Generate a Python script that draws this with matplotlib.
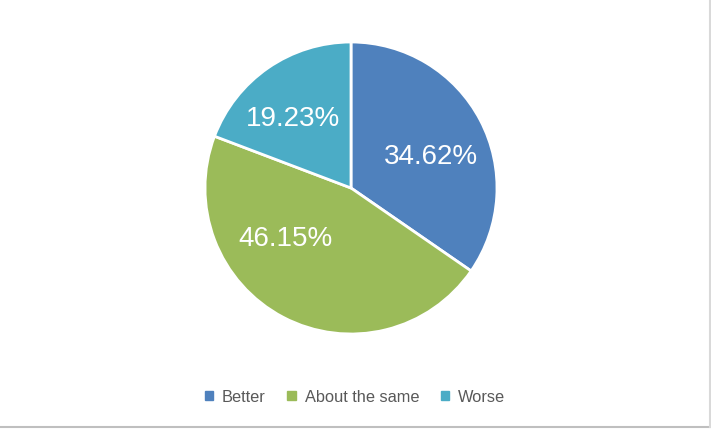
import matplotlib.pyplot as plt
from matplotlib.lines import Line2D

# Data
categories = ['Better', 'About the same', 'Worse']
shares = [34.62, 46.15, 19.23]
colors = ['#4F81BD', '#9BBB59', '#4BACC6']

# label anchor points (pie radius units), Excel best-fit style
label_xy = [(0.55, 0.21), (-0.45, -0.35), (-0.40, 0.47)]

plt.rcParams['font.family'] = ['Liberation Sans', 'DejaVu Sans']

fig = plt.figure(figsize=(7.11, 4.30), dpi=100)
W, H = 711, 430
cx, cy, r = 351, 188, 146
ax = fig.add_axes([(cx - r) / W, (H - cy - r) / H, 2 * r / W, 2 * r / H])

wedges, texts, autotexts = ax.pie(
    shares, colors=colors, startangle=90, counterclock=False,
    autopct='%.2f%%', pctdistance=0.58, radius=1,
    wedgeprops=dict(edgecolor='white', linewidth=2),
    textprops=dict(color='white', fontsize=20))
for t, xy in zip(autotexts, label_xy):
    t.set_position(xy)
ax.set_xlim(-1, 1)
ax.set_ylim(-1, 1)
ax.set_aspect('equal')

handles = [plt.Rectangle((0, 0), 1, 1, color=c) for c in colors]
fig.legend(handles, categories, loc='center', bbox_to_anchor=(355 / W, 1 - 397 / H),
           ncol=3, frameon=False, fontsize=11.8, labelcolor='#595959',
           handlelength=0.5, handleheight=0.5, handletextpad=0.55,
           columnspacing=1.33)

# chart area border (bottom and right)
fig.add_artist(Line2D([0, 709.5 / W], [1 - 427 / H] * 2, transform=fig.transFigure,
                      color='#BFBFBF', linewidth=1.5))
fig.add_artist(Line2D([709.5 / W] * 2, [1 - 427 / H, 1], transform=fig.transFigure,
                      color='#D9D9D9', linewidth=1.5))

fig.savefig('out.png', dpi=100)
